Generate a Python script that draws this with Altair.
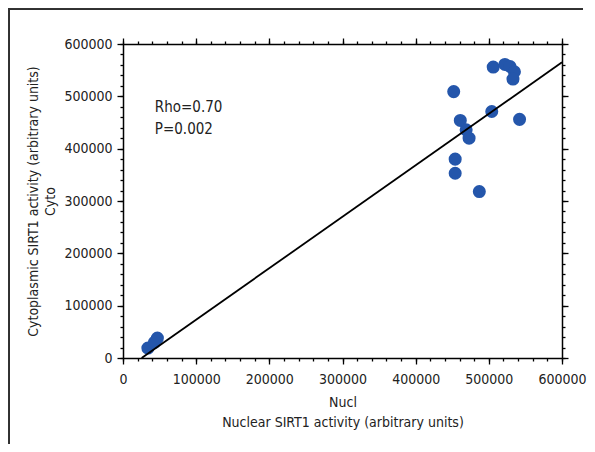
import altair as alt
import pandas as pd

# Data
nucl = [34000, 47000, 43000, 452000, 506000, 522000, 529000, 535000, 533000,
        504000, 542000, 461000, 469000, 473000, 454000, 454000, 487000]
cyto = [19000, 38000, 30000, 509000, 556000, 561000, 557000, 547000, 533000,
        471000, 456000, 454000, 436000, 420000, 380000, 353000, 318000]

fit_x = [25500, 600000]
fit_y = [0, 565000]

major_ticks = [0, 100000, 200000, 300000, 400000, 500000, 600000]
minor_ticks = list(range(0, 600001, 20000))
annot = ["Rho=0.70", "P=0.002"]
annot_x = [43500, 43500]
annot_y = [480000, 438000]

FONT = "Liberation Sans Narrow, DejaVu Sans Condensed, sans-serif"

pts = pd.DataFrame({"Nucl": nucl, "Cyto": cyto})
fit = pd.DataFrame({"Nucl": fit_x, "Cyto": fit_y})
txt = pd.DataFrame({"t": annot, "Nucl": annot_x, "Cyto": annot_y})

dom = [0, 600000]
xs = alt.Scale(domain=dom, nice=False, zero=False)
ys = alt.Scale(domain=dom, nice=False, zero=False)

x_bottom = alt.Axis(values=major_ticks, format="d", tickSize=6, labelOverlap=False,
                    labelFlush=False,
                    title=["Nucl", "Nuclear SIRT1 activity (arbitrary units)"],
                    grid=False, orient="bottom", labelPadding=8, titlePadding=9,
                    titleLineHeight=20)
y_left = alt.Axis(values=major_ticks, format="d", tickSize=6, labelOverlap=False,
                  labelFlush=False,
                  title=["Cytoplasmic SIRT1 activity (arbitrary units)", "Cyto"],
                  grid=False, orient="left", labelPadding=5, titlePadding=6,
                  titleLineHeight=17)

points = alt.Chart(pts).mark_circle(size=170, opacity=1, color="#2456AB").encode(
    x=alt.X("Nucl:Q", scale=xs, axis=x_bottom),
    y=alt.Y("Cyto:Q", scale=ys, axis=y_left),
)
text = alt.Chart(txt).mark_text(align="left", baseline="middle", fontSize=15,
                                font=FONT, color="#222222").encode(
    x=alt.X("Nucl:Q", scale=xs),
    y=alt.Y("Cyto:Q", scale=ys),
    text="t:N",
)
frame_top = alt.Chart(pts).mark_rule(color="#333333", strokeWidth=1.5).encode(
    x=alt.value(-114.5), x2=alt.value(460), y=alt.value(-35.5))
frame_left = alt.Chart(pts).mark_rule(color="#333333", strokeWidth=1.5).encode(
    x=alt.value(-114.5), y=alt.value(-35.5), y2=alt.value(410))

inner = alt.layer(frame_top, frame_left, points, text)

line = alt.Chart(fit).mark_line(color="black", strokeWidth=1.8).encode(
    x=alt.X("Nucl:Q", scale=xs,
            axis=alt.Axis(values=major_ticks, labels=False, tickSize=6, title=None,
                          grid=False, orient="top")),
    y=alt.Y("Cyto:Q", scale=ys,
            axis=alt.Axis(values=major_ticks, labels=False, tickSize=6, title=None,
                          grid=False, orient="right")),
)


def minor_layer(xo, yo):
    return alt.Chart(fit).mark_line(opacity=0).encode(
        x=alt.X("Nucl:Q", scale=xs,
                axis=alt.Axis(values=minor_ticks, labels=False, tickSize=3, title=None,
                              domain=False, grid=False, orient=xo)),
        y=alt.Y("Cyto:Q", scale=ys,
                axis=alt.Axis(values=minor_ticks, labels=False, tickSize=3, title=None,
                              domain=False, grid=False, orient=yo)),
    )


chart = alt.layer(inner, line, minor_layer("bottom", "left"), minor_layer("top", "right")
                  ).resolve_scale(x="independent", y="independent").properties(
    width=439, height=314,
    autosize=alt.AutoSizeParams(type="none"),
    padding={"left": 115, "top": 36, "right": 25, "bottom": 86},
).configure_view(stroke=None).configure_axis(
    domainColor="black", domainWidth=1.5, tickColor="black", tickWidth=1.3,
    labelFont=FONT, labelFontSize=14, labelColor="#222222",
    titleFont=FONT, titleFontSize=14, titleFontWeight="normal", titleColor="#222222",
)

chart.save("out.html", embed_options={"renderer": "svg", "actions": False})
